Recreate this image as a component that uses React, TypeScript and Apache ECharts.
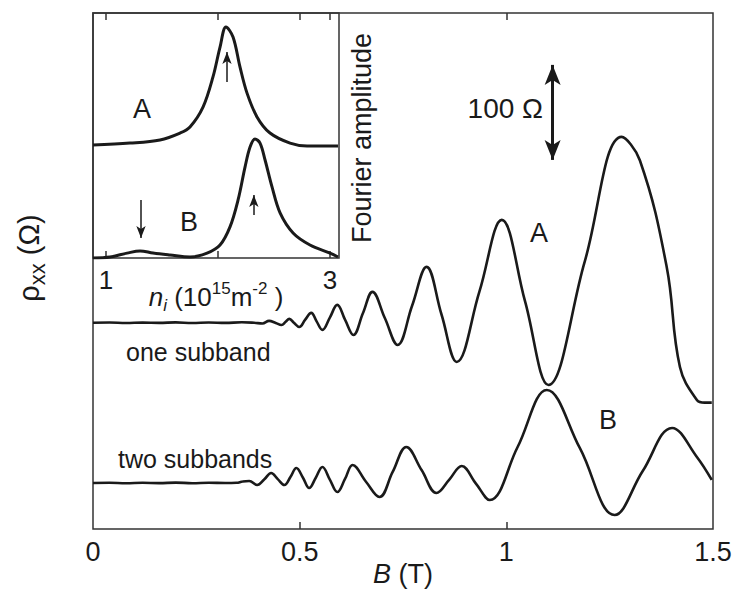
import React, { useEffect, useRef } from "react";
import * as echarts from "echarts";

// ---- Main plot: rho_xx vs B ----
// "one subband" curve (A)
const bA = [0, 0.04, 0.08, 0.12, 0.16, 0.2, 0.24, 0.28, 0.32, 0.36, 0.39, 0.41, 0.426, 0.442, 0.456, 0.466, 0.475, 0.486, 0.499, 0.513, 0.528, 0.541, 0.555, 0.573, 0.591, 0.61, 0.63, 0.653, 0.676, 0.706, 0.737, 0.772, 0.807, 0.843, 0.88, 0.935, 0.989, 1.045, 1.102, 1.19, 1.279, 1.323, 1.388, 1.42, 1.461, 1.48, 1.497];
const rhoA = [217, 217.3, 216.8, 217.2, 216.9, 217.4, 216.8, 217.3, 216.9, 217.5, 217, 216.3, 219, 216.8, 214.7, 218, 221.1, 217, 212.6, 220, 227.4, 218.5, 209.5, 222.5, 235.8, 220, 204.2, 227, 249.5, 222, 193.7, 235, 275.8, 226, 175.8, 250, 325.3, 240, 151.6, 282, 412.6, 388, 275.8, 170.5, 135.8, 133, 133];
// "two subbands" curve (B)
const bB = [0, 0.04, 0.08, 0.12, 0.16, 0.2, 0.24, 0.28, 0.32, 0.347, 0.362, 0.378, 0.397, 0.414, 0.431, 0.447, 0.463, 0.478, 0.492, 0.508, 0.523, 0.539, 0.555, 0.573, 0.591, 0.61, 0.628, 0.66, 0.693, 0.725, 0.758, 0.795, 0.831, 0.862, 0.892, 0.926, 0.96, 1.027, 1.098, 1.178, 1.262, 1.33, 1.401, 1.461, 1.497];
const rhoB = [48.4, 48.7, 48.2, 48.6, 48.3, 48.8, 48.2, 48.6, 48.4, 48.6, 50, 50.5, 46.3, 52, 58.9, 52.5, 46.3, 55, 64.2, 54, 43.2, 54, 65.3, 52, 38.9, 53, 67.4, 50, 33.7, 60, 86.3, 62, 37.9, 52, 66.3, 48, 30.5, 86, 146.3, 85, 14.7, 61, 106.3, 75.8, 51.6];
const mainXTicks = [0, 0.5, 1, 1.5];
const mainTopTicks = [0.5, 1];
// 100 Ohm scale bar
const scaleBarB = 1.112;
const scaleBarRho = [388.4, 488.4];

// ---- Inset: Fourier amplitude vs n_i ----
const nA = [0.884, 1.214, 1.482, 1.661, 1.75, 1.866, 1.955, 2.018, 2.071, 2.134, 2.196, 2.259, 2.348, 2.464, 2.643, 2.795, 3.071];
const ampA = [0.461, 0.469, 0.482, 0.51, 0.535, 0.616, 0.739, 0.861, 0.943, 0.902, 0.78, 0.673, 0.576, 0.51, 0.469, 0.457, 0.457];
const nB = [0.884, 1.036, 1.188, 1.304, 1.42, 1.571, 1.75, 1.902, 2.018, 2.107, 2.179, 2.241, 2.286, 2.33, 2.375, 2.42, 2.482, 2.554, 2.67, 2.821, 3.0, 3.071];
const ampB = [0.0, 0.004, 0.02, 0.029, 0.02, 0.012, 0.004, 0.02, 0.053, 0.127, 0.237, 0.371, 0.453, 0.486, 0.469, 0.4, 0.29, 0.184, 0.102, 0.053, 0.02, 0.004];
const insetTickValues = [1, 2, 3];
const insetLabelValues = [1, 3];
// inset arrows: [n, from, to]
const arrowA = [2.08, 0.718, 0.841];
const arrowBUp = [2.32, 0.176, 0.257];
const arrowBDown = [1.3125, 0.237, 0.082];

const FONT = "'Liberation Sans', Arial, Helvetica, sans-serif";
const INK = "#1a1a1a";

const zip = (xs: number[], ys: number[]) => xs.map((x, i) => [x, ys[i]]);

export default function App() {
  const ref = useRef<HTMLDivElement>(null);
  useEffect(() => {
    if (!ref.current) return;
    const chart = echarts.init(ref.current, null, { renderer: "svg" });
    const mkArrow = (a: number[]) => [
      { coord: [a[0], a[1]], symbol: "none" },
      { coord: [a[0], a[2]], symbol: "arrow" },
    ];
    const tick = { show: true, inside: true, length: 7, lineStyle: { color: "#333", width: 1.5 } };
    const option: any = {
      animation: false,
      backgroundColor: "#ffffff",
      textStyle: { fontFamily: FONT, color: INK },
      grid: [
        { left: 93, top: 13, width: 620, height: 516, show: true, borderColor: "#333", borderWidth: 1.5, backgroundColor: "transparent", outerBoundsMode: "none", containLabel: false },
        { left: 93, top: 13, width: 246, height: 245, show: true, borderColor: "#333", borderWidth: 1.5, backgroundColor: "transparent", outerBoundsMode: "none", containLabel: false },
      ],
      xAxis: [
        {
          gridIndex: 0, type: "value", min: 0, max: 1.5, interval: 0.5, position: "bottom",
          axisLine: { show: false }, splitLine: { show: false },
          axisTick: { ...tick, customValues: mainTopTicks },
          axisLabel: { fontSize: 27, color: INK, fontFamily: FONT, margin: 9, customValues: mainXTicks, formatter: (v: number) => String(v) },
          name: "{i|B} (T)", nameLocation: "middle", nameGap: 31, nameMoveOverlap: false,
          nameTextStyle: { fontSize: 27, color: INK, fontFamily: FONT, rich: { i: { fontSize: 27, fontStyle: "italic", fontFamily: FONT, color: INK } } },
        },
        {
          gridIndex: 0, type: "value", min: 0, max: 1.5, interval: 0.5, position: "top",
          axisLine: { show: false }, splitLine: { show: false },
          axisTick: { ...tick, customValues: mainTopTicks },
          axisLabel: { show: false },
        },
        {
          gridIndex: 1, type: "value", min: 0.884, max: 3.08, position: "bottom",
          axisLine: { show: false }, splitLine: { show: false },
          axisTick: { ...tick, customValues: insetTickValues },
          axisLabel: { fontSize: 26, color: INK, fontFamily: FONT, margin: 9, customValues: insetLabelValues },
          name: "{it|n}{sub|i}{p| (10}{sup|15}{p|m}{sup|-2}{p| )}", nameLocation: "middle", nameGap: 22, nameMoveOverlap: false,
          nameTextStyle: {
            fontSize: 26, color: INK, fontFamily: FONT,
            rich: {
              it: { fontSize: 26, fontStyle: "italic", fontFamily: FONT, color: INK, lineHeight: 34, verticalAlign: "middle" },
              sub: { fontSize: 17, fontStyle: "italic", fontFamily: FONT, color: INK, lineHeight: 17, verticalAlign: "bottom" },
              p: { fontSize: 26, fontFamily: FONT, color: INK, lineHeight: 34, verticalAlign: "middle" },
              sup: { fontSize: 17, fontFamily: FONT, color: INK, lineHeight: 17, verticalAlign: "top" },
            },
          },
        },
        {
          gridIndex: 1, type: "value", min: 0.884, max: 3.08, position: "top",
          axisLine: { show: false }, splitLine: { show: false },
          axisTick: { ...tick, customValues: insetTickValues },
          axisLabel: { show: false },
        },
      ],
      yAxis: [
        {
          gridIndex: 0, type: "value", min: 0, max: 543,
          axisLine: { show: false }, axisTick: { show: false }, axisLabel: { show: false }, splitLine: { show: false },
          name: "{r|ρ}{s|xx}{r| (Ω)}", nameLocation: "middle", nameRotate: 90, nameGap: 45, nameMoveOverlap: false,
          nameTextStyle: {
            fontSize: 29, color: INK, fontFamily: FONT, padding: [0, 0, 0, 26],
            rich: {
              r: { fontSize: 29, fontFamily: FONT, color: INK, lineHeight: 38, verticalAlign: "middle" },
              s: { fontSize: 22, fontFamily: FONT, color: INK, lineHeight: 22, verticalAlign: "bottom" },
            },
          },
        },
        {
          gridIndex: 1, type: "value", min: 0, max: 1,
          axisLine: { show: false }, axisTick: { show: false }, axisLabel: { show: false }, splitLine: { show: false },
        },
      ],
      series: [
        {
          name: "one subband", type: "line", xAxisIndex: 0, yAxisIndex: 0, data: zip(bA, rhoA),
          smooth: 0.4, showSymbol: false, lineStyle: { color: INK, width: 2.6 },
          markLine: {
            silent: true, symbol: ["arrow", "arrow"], symbolSize: [12, 20],
            lineStyle: { color: INK, width: 3, type: "solid" }, label: { show: false },
            data: [[{ coord: [scaleBarB, scaleBarRho[0]] }, { coord: [scaleBarB, scaleBarRho[1]] }]],
          },
        },
        {
          name: "two subbands", type: "line", xAxisIndex: 0, yAxisIndex: 0, data: zip(bB, rhoB),
          smooth: 0.4, showSymbol: false, lineStyle: { color: INK, width: 2.6 },
        },
        {
          name: "A", type: "line", xAxisIndex: 2, yAxisIndex: 1, data: zip(nA, ampA),
          smooth: 0.35, showSymbol: false, lineStyle: { color: INK, width: 3 },
          markLine: {
            silent: true, symbolSize: [7, 12],
            lineStyle: { color: INK, width: 1.5, type: "solid" }, label: { show: false },
            data: [mkArrow(arrowA)],
          },
        },
        {
          name: "B", type: "line", xAxisIndex: 2, yAxisIndex: 1, data: zip(nB, ampB),
          smooth: 0.35, showSymbol: false, lineStyle: { color: INK, width: 3 },
          markLine: {
            silent: true, symbolSize: [7, 12],
            lineStyle: { color: INK, width: 1.5, type: "solid" }, label: { show: false },
            data: [mkArrow(arrowBUp), mkArrow(arrowBDown)],
          },
        },
      ],
      graphic: [
        { type: "text", x: 539, y: 233, style: { text: "A", fontSize: 27, fontFamily: FONT, fill: INK, align: "center", verticalAlign: "middle" } },
        { type: "text", x: 608, y: 420, style: { text: "B", fontSize: 27, fontFamily: FONT, fill: INK, align: "center", verticalAlign: "middle" } },
        { type: "text", x: 142, y: 109, style: { text: "A", fontSize: 27, fontFamily: FONT, fill: INK, align: "center", verticalAlign: "middle" } },
        { type: "text", x: 189, y: 222, style: { text: "B", fontSize: 27, fontFamily: FONT, fill: INK, align: "center", verticalAlign: "middle" } },
        { type: "text", x: 543, y: 108, style: { text: "100 Ω", fontSize: 28, fontFamily: FONT, fill: INK, align: "right", verticalAlign: "middle" } },
        { type: "text", x: 126, y: 352, style: { text: "one subband", fontSize: 25, fontFamily: FONT, fill: INK, align: "left", verticalAlign: "middle" } },
        { type: "text", x: 118, y: 459, style: { text: "two subbands", fontSize: 25, fontFamily: FONT, fill: INK, align: "left", verticalAlign: "middle" } },
        { type: "text", x: 362, y: 138, rotation: Math.PI / 2, style: { text: "Fourier amplitude", fontSize: 27, fontFamily: FONT, fill: INK, align: "center", verticalAlign: "middle" } },
      ],
    };
    chart.setOption(option);
    return () => chart.dispose();
  }, []);
  return <div ref={ref} style={{ position: "fixed", left: 0, top: 0, width: 735, height: 591, background: "#fff" }} />;
}
